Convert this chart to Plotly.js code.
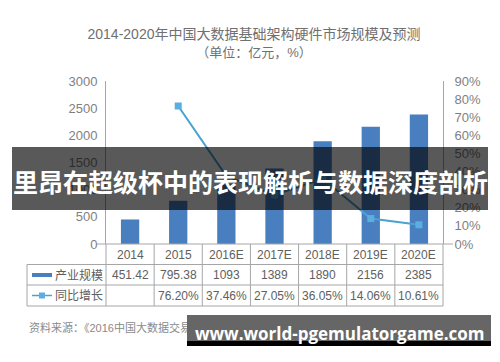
<!DOCTYPE html>
<html>
<head>
<meta charset="utf-8">
<script src="https://cdn.plot.ly/plotly-3.0.1.min.js"></script>
<style>html,body{margin:0;padding:0;background:#fff;}#chart{width:500px;height:362px;}</style>
</head>
<body>
<div id="chart"></div>
<script>
// ---- data ----
const categories = ['2014', '2015', '2016E', '2017E', '2018E', '2019E', '2020E'];
const scaleValues = [451.42, 795.38, 1093, 1389, 1890, 2156, 2385];
const scaleLabels = ['451.42', '795.38', '1093', '1389', '1890', '2156', '2385'];
const growthValues = [null, 76.20, 37.46, 27.05, 36.05, 14.06, 10.61];
const growthLabels = ['', '76.20%', '37.46%', '27.05%', '36.05%', '14.06%', '10.61%'];
const seriesNames = ['产业规模', '同比增长'];
const titleText = '2014-2020年中国大数据基础架构硬件市场规模及预测';
const unitText = '（单位：亿元，%）';
const sourceText = '资料来源：《2016中国大数据交易白皮书》前瞻产业研究院整理';
const bannerText = '里昂在超级杯中的表现解析与数据深度剖析';
const watermarkText = 'www.world-pgemulatorgame.com';

// ---- layout geometry (pixels) ----
const W = 500, Hc = 362;
const L = 106, R = 443, T = 81, B = 244;
const PW = R - L, PH = B - T;
const X = px => (px - L) / PW;
const Y = py => (B - py) / PH;

const FONT = '"Liberation Sans", "Noto Sans CJK SC", sans-serif';
const barColor = '#4a7fbf';
const lineColor = '#4aa3cf';
const markerColor = '#5aaee0';
const gridColor = '#a6a6a6';
const textColor = '#606060';

const rowTop = [244, 264.5, 285, 306];
const rowMid = [254.5, 275, 295.5];

const traces = [
  {
    type: 'bar', name: seriesNames[0], x: categories, y: scaleValues,
    marker: {color: barColor}, width: 0.38, hoverinfo: 'skip'
  },
  {
    type: 'scatter', mode: 'lines+markers', name: seriesNames[1], x: categories, y: growthValues,
    yaxis: 'y2', line: {color: lineColor, width: 2},
    marker: {symbol: 'square', size: 7, color: markerColor}, hoverinfo: 'skip'
  }
];

const shapes = [];
const line = (x0, y0, x1, y1, color, width) => shapes.push({
  type: 'line', xref: 'paper', yref: 'paper', x0: X(x0), x1: X(x1), y0: Y(y0), y1: Y(y1),
  line: {color: color, width: width}, layer: 'above'
});
// table grid
line(97, rowTop[0], 453, rowTop[0], gridColor, 1);
for (let r = 1; r < 4; r++) line(27, rowTop[r], R, rowTop[r], gridColor, 1);
for (let k = 0; k <= categories.length; k++) {
  const xp = L + k * PW / categories.length;
  line(xp, rowTop[0], xp, rowTop[3], gridColor, 1);
}
line(27, rowTop[1], 27, rowTop[3], gridColor, 1);
// legend icons
line(32, rowMid[1], 52, rowMid[1], barColor, 4);
line(32, rowMid[2], 52, rowMid[2], lineColor, 1.5);
shapes.push({type: 'rect', xref: 'paper', yref: 'paper', x0: X(39), x1: X(45), y0: Y(rowMid[2] - 3), y1: Y(rowMid[2] + 3),
  fillcolor: markerColor, line: {width: 0}, layer: 'above'});
// banner overlay
shapes.push({type: 'rect', xref: 'paper', yref: 'paper', x0: X(12), x1: X(488), y0: Y(147), y1: Y(210),
  fillcolor: 'rgba(0,0,0,0.65)', line: {width: 0}, layer: 'above'});

const annotations = [];
const tfont = {family: FONT, size: 12, color: textColor};
categories.forEach((c, i) => {
  annotations.push({xref: 'x', yref: 'paper', x: i, y: Y(rowMid[0]), text: c, showarrow: false, font: tfont, xanchor: 'center', yanchor: 'middle'});
  annotations.push({xref: 'x', yref: 'paper', x: i, y: Y(rowMid[1]), text: scaleLabels[i], showarrow: false, font: tfont, xanchor: 'center', yanchor: 'middle'});
  if (growthLabels[i]) annotations.push({xref: 'x', yref: 'paper', x: i, y: Y(rowMid[2]), text: growthLabels[i], showarrow: false, font: tfont, xanchor: 'center', yanchor: 'middle'});
});
annotations.push({xref: 'paper', yref: 'paper', x: X(53), y: Y(rowMid[1]), text: seriesNames[0], showarrow: false, font: tfont, xanchor: 'left', yanchor: 'middle'});
annotations.push({xref: 'paper', yref: 'paper', x: X(53), y: Y(rowMid[2]), text: seriesNames[1], showarrow: false, font: tfont, xanchor: 'left', yanchor: 'middle'});
// banner text
annotations.push({xref: 'paper', yref: 'paper', x: X(250), y: Y(181), text: bannerText, showarrow: false,
  font: {family: '"Noto Sans CJK SC", sans-serif', size: 25, color: '#ffffff', weight: 'bold'}, xanchor: 'center', yanchor: 'middle'});
// source text
annotations.push({xref: 'paper', yref: 'paper', x: X(27), y: Y(327), text: sourceText, showarrow: false,
  font: {family: FONT, size: 11, color: '#8a8a8a'}, xanchor: 'left', yanchor: 'middle'});
// watermark boxes (annotations so they sit over the source text)
annotations.push({xref: 'paper', yref: 'paper', x: X(187), y: Y(315), text: ' ', showarrow: false, width: 304, height: 31,
  bgcolor: '#000000', borderpad: 0, borderwidth: 0, xanchor: 'left', yanchor: 'top'});
annotations.push({xref: 'paper', yref: 'paper', x: X(187), y: Y(315), text: ' ', showarrow: false, width: 304, height: 26,
  bgcolor: '#666666', borderpad: 0, borderwidth: 0, xanchor: 'left', yanchor: 'top'});
annotations.push({xref: 'paper', yref: 'paper', x: X(339), y: Y(333), text: watermarkText, showarrow: false,
  font: {family: '"Open Sans", sans-serif', size: 17, color: '#ffffff', weight: 'bold'}, xanchor: 'center', yanchor: 'middle'});

const layout = {
  width: W, height: Hc,
  margin: {l: L, r: W - R, t: T, b: Hc - B, pad: 0},
  paper_bgcolor: '#ffffff', plot_bgcolor: '#ffffff',
  showlegend: false,
  title: {
    text: titleText + '<br><span style="font-size:13px">' + unitText + '</span>',
    x: 254 / W, xref: 'container', xanchor: 'center',
    y: 1 - 39 / Hc, yref: 'container', yanchor: 'middle',
    font: {family: FONT, size: 14, color: '#707070'}
  },
  xaxis: {type: 'category', range: [-0.5, 6.5], showticklabels: false, showline: false, showgrid: false, zeroline: false, ticks: '', fixedrange: true},
  yaxis: {range: [0, 3000], dtick: 500, showgrid: false, zeroline: false, showline: true, linecolor: gridColor, linewidth: 1,
    ticks: '', ticklabelstandoff: 5, tickfont: {family: FONT, size: 13, color: '#7f7f7f'}},
  yaxis2: {range: [0, 90], dtick: 10, ticksuffix: '%', overlaying: 'y', side: 'right', showgrid: false, zeroline: false,
    showline: true, linecolor: gridColor, linewidth: 1, ticks: '', ticklabelstandoff: 8,
    tickfont: {family: FONT, size: 13, color: '#7f7f7f'}},
  shapes: shapes,
  annotations: annotations
};

Plotly.newPlot('chart', traces, layout, {staticPlot: true, displayModeBar: false});
</script>
</body>
</html>
